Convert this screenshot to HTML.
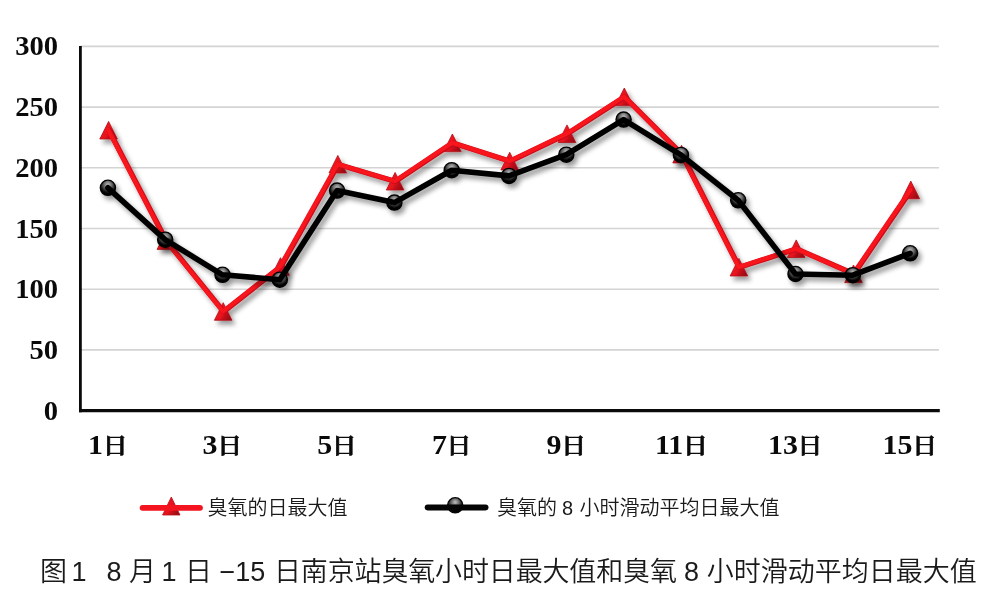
<!DOCTYPE html>
<html lang="zh-CN">
<head>
<meta charset="utf-8">
<title>图1 臭氧日最大值</title>
<style>
html,body{margin:0;padding:0;background:#fff;}
body{width:1000px;height:604px;overflow:hidden;position:relative;}
svg{position:absolute;left:0;top:0;display:block;}
.ax{font-family:"Liberation Serif","Noto Serif CJK SC",serif;font-weight:bold;font-size:28px;fill:#0a0a0a;}
.cj{font-family:"Liberation Serif","Noto Serif CJK SC","Noto Sans CJK SC",serif;font-weight:600;font-size:21.6px;fill:#0a0a0a;stroke:#0a0a0a;stroke-width:0.6px;stroke-linejoin:round;}
.lg{font-family:"Liberation Sans","Noto Sans CJK SC",sans-serif;font-weight:350;font-size:20px;fill:#1a1a1a;}
.cp{font-family:"Liberation Sans","Noto Sans CJK SC",sans-serif;font-weight:350;font-size:27px;fill:#1a1a1a;}
</style>
</head>
<body>
<svg width="1000" height="604" viewBox="0 0 1000 604">
<defs>
<filter id="sh" x="-5%" y="-10%" width="110%" height="125%">
<feGaussianBlur in="SourceAlpha" stdDeviation="2.6"/>
<feOffset dx="2.5" dy="3.5" result="o"/>
<feComponentTransfer><feFuncA type="linear" slope="0.4"/></feComponentTransfer>
<feMerge><feMergeNode/><feMergeNode in="SourceGraphic"/></feMerge>
</filter>
<linearGradient id="tg" x1="0" y1="0.2" x2="1" y2="0.8">
<stop offset="0" stop-color="#f6141f"/><stop offset="0.5" stop-color="#e6131d"/><stop offset="1" stop-color="#8e0c14"/>
</linearGradient>
<radialGradient id="cg" cx="0.5" cy="0.3" r="0.56">
<stop offset="0" stop-color="#c0c0c0"/><stop offset="0.45" stop-color="#6a6a6a"/><stop offset="0.85" stop-color="#161616"/><stop offset="1" stop-color="#000"/>
</radialGradient>
</defs>
<rect width="1000" height="604" fill="#fff"/>
<line x1="80.4" x2="939.0" y1="349.9" y2="349.9" stroke="#d4d4d4" stroke-width="1.6"/>
<line x1="80.4" x2="939.0" y1="289.2" y2="289.2" stroke="#d4d4d4" stroke-width="1.6"/>
<line x1="80.4" x2="939.0" y1="228.5" y2="228.5" stroke="#d4d4d4" stroke-width="1.6"/>
<line x1="80.4" x2="939.0" y1="167.8" y2="167.8" stroke="#d4d4d4" stroke-width="1.6"/>
<line x1="80.4" x2="939.0" y1="107.1" y2="107.1" stroke="#d4d4d4" stroke-width="1.6"/>
<line x1="80.4" x2="939.0" y1="46.4" y2="46.4" stroke="#d4d4d4" stroke-width="1.6"/>
<g filter="url(#sh)">
<polygon points="108.6,121.4 117.4,139.0 99.8,139.0" fill="url(#tg)" stroke="#b5121b" stroke-width="0.8" stroke-linejoin="round"/><polygon points="165.9,231.8 174.7,249.4 157.1,249.4" fill="url(#tg)" stroke="#b5121b" stroke-width="0.8" stroke-linejoin="round"/><polygon points="223.2,302.7 232.0,320.3 214.4,320.3" fill="url(#tg)" stroke="#b5121b" stroke-width="0.8" stroke-linejoin="round"/><polygon points="280.5,257.7 289.3,275.3 271.7,275.3" fill="url(#tg)" stroke="#b5121b" stroke-width="0.8" stroke-linejoin="round"/><polygon points="337.8,155.4 346.6,173.0 329.0,173.0" fill="url(#tg)" stroke="#b5121b" stroke-width="0.8" stroke-linejoin="round"/><polygon points="395.1,172.4 403.9,190.0 386.3,190.0" fill="url(#tg)" stroke="#b5121b" stroke-width="0.8" stroke-linejoin="round"/><polygon points="452.4,134.0 461.2,151.6 443.6,151.6" fill="url(#tg)" stroke="#b5121b" stroke-width="0.8" stroke-linejoin="round"/><polygon points="509.7,152.3 518.5,169.9 500.9,169.9" fill="url(#tg)" stroke="#b5121b" stroke-width="0.8" stroke-linejoin="round"/><polygon points="567.0,124.9 575.8,142.5 558.2,142.5" fill="url(#tg)" stroke="#b5121b" stroke-width="0.8" stroke-linejoin="round"/><polygon points="624.3,88.0 633.1,105.6 615.5,105.6" fill="url(#tg)" stroke="#b5121b" stroke-width="0.8" stroke-linejoin="round"/><polygon points="681.6,145.3 690.4,162.9 672.8,162.9" fill="url(#tg)" stroke="#b5121b" stroke-width="0.8" stroke-linejoin="round"/><polygon points="738.9,258.4 747.7,276.0 730.1,276.0" fill="url(#tg)" stroke="#b5121b" stroke-width="0.8" stroke-linejoin="round"/><polygon points="796.2,239.9 805.0,257.5 787.4,257.5" fill="url(#tg)" stroke="#b5121b" stroke-width="0.8" stroke-linejoin="round"/><polygon points="853.5,265.0 862.3,282.6 844.7,282.6" fill="url(#tg)" stroke="#b5121b" stroke-width="0.8" stroke-linejoin="round"/><polygon points="910.8,181.1 919.6,198.7 902.0,198.7" fill="url(#tg)" stroke="#b5121b" stroke-width="0.8" stroke-linejoin="round"/>
<polyline points="108.6,130.2 165.9,240.6 223.2,311.5 280.5,266.5 337.8,164.2 395.1,181.2 452.4,142.8 509.7,161.1 567.0,133.7 624.3,96.8 681.6,154.1 738.9,267.2 796.2,248.7 853.5,273.8 910.8,189.9" fill="none" stroke="#c20f1a" stroke-width="5.2" stroke-linejoin="round" stroke-linecap="round" transform="translate(0.5,0.2)"/>
<polyline points="108.6,130.2 165.9,240.6 223.2,311.5 280.5,266.5 337.8,164.2 395.1,181.2 452.4,142.8 509.7,161.1 567.0,133.7 624.3,96.8 681.6,154.1 738.9,267.2 796.2,248.7 853.5,273.8 910.8,189.9" fill="none" stroke="#f6121f" stroke-width="4.5" stroke-linejoin="round" stroke-linecap="round" transform="translate(-0.3,-0.1)"/>
</g>
<g filter="url(#sh)">
<circle cx="107.9" cy="187.8" r="7.6" fill="url(#cg)" stroke="#050505" stroke-width="1.3"/><circle cx="165.2" cy="239.7" r="7.6" fill="url(#cg)" stroke="#050505" stroke-width="1.3"/><circle cx="222.5" cy="274.8" r="7.6" fill="url(#cg)" stroke="#050505" stroke-width="1.3"/><circle cx="279.8" cy="279.7" r="7.6" fill="url(#cg)" stroke="#050505" stroke-width="1.3"/><circle cx="337.1" cy="190.6" r="7.6" fill="url(#cg)" stroke="#050505" stroke-width="1.3"/><circle cx="394.4" cy="202.6" r="7.6" fill="url(#cg)" stroke="#050505" stroke-width="1.3"/><circle cx="451.7" cy="170.2" r="7.6" fill="url(#cg)" stroke="#050505" stroke-width="1.3"/><circle cx="509.0" cy="175.9" r="7.6" fill="url(#cg)" stroke="#050505" stroke-width="1.3"/><circle cx="566.3" cy="154.7" r="7.6" fill="url(#cg)" stroke="#050505" stroke-width="1.3"/><circle cx="623.6" cy="119.6" r="7.6" fill="url(#cg)" stroke="#050505" stroke-width="1.3"/><circle cx="680.9" cy="154.9" r="7.6" fill="url(#cg)" stroke="#050505" stroke-width="1.3"/><circle cx="738.2" cy="200.3" r="7.6" fill="url(#cg)" stroke="#050505" stroke-width="1.3"/><circle cx="795.5" cy="274.0" r="7.6" fill="url(#cg)" stroke="#050505" stroke-width="1.3"/><circle cx="852.8" cy="275.2" r="7.6" fill="url(#cg)" stroke="#050505" stroke-width="1.3"/><circle cx="910.1" cy="253.3" r="7.6" fill="url(#cg)" stroke="#050505" stroke-width="1.3"/>
<polyline points="107.9,187.8 165.2,239.7 222.5,274.8 279.8,279.7 337.1,190.6 394.4,202.6 451.7,170.2 509.0,175.9 566.3,154.7 623.6,119.6 680.9,154.9 738.2,200.3 795.5,274.0 852.8,275.2 910.1,253.3" fill="none" stroke="#050505" stroke-width="5.6" stroke-linejoin="round" stroke-linecap="round"/>
</g>
<line x1="80.4" x2="80.4" y1="46.1" y2="412.20000000000005" stroke="#0a0a0a" stroke-width="2.8"/>
<line x1="79" x2="939.8000000000001" y1="410.70000000000005" y2="410.70000000000005" stroke="#0a0a0a" stroke-width="3.2"/>
<text class="ax" transform="translate(58,419.6) scale(1.02,1)" text-anchor="end">0</text>
<text class="ax" transform="translate(58,358.9) scale(1.02,1)" text-anchor="end">50</text>
<text class="ax" transform="translate(58,298.2) scale(1.02,1)" text-anchor="end">100</text>
<text class="ax" transform="translate(58,237.5) scale(1.02,1)" text-anchor="end">150</text>
<text class="ax" transform="translate(58,176.8) scale(1.02,1)" text-anchor="end">200</text>
<text class="ax" transform="translate(58,116.1) scale(1.02,1)" text-anchor="end">250</text>
<text class="ax" transform="translate(58,55.4) scale(1.02,1)" text-anchor="end">300</text>
<text class="ax" transform="translate(103.0,454) scale(1.07,1)" text-anchor="end">1</text><text class="cj" transform="translate(102.4,453.3) scale(1.17,1)">日</text>
<text class="ax" transform="translate(217.6,454) scale(1.07,1)" text-anchor="end">3</text><text class="cj" transform="translate(217.0,453.3) scale(1.17,1)">日</text>
<text class="ax" transform="translate(332.2,454) scale(1.07,1)" text-anchor="end">5</text><text class="cj" transform="translate(331.6,453.3) scale(1.17,1)">日</text>
<text class="ax" transform="translate(446.9,454) scale(1.07,1)" text-anchor="end">7</text><text class="cj" transform="translate(446.3,453.3) scale(1.17,1)">日</text>
<text class="ax" transform="translate(561.5,454) scale(1.07,1)" text-anchor="end">9</text><text class="cj" transform="translate(560.9,453.3) scale(1.17,1)">日</text>
<text class="ax" transform="translate(683.3,454) scale(1.07,1)" text-anchor="end">11</text><text class="cj" transform="translate(682.7,453.3) scale(1.17,1)">日</text>
<text class="ax" transform="translate(797.9,454) scale(1.07,1)" text-anchor="end">13</text><text class="cj" transform="translate(797.3,453.3) scale(1.17,1)">日</text>
<text class="ax" transform="translate(912.5,454) scale(1.07,1)" text-anchor="end">15</text><text class="cj" transform="translate(911.9,453.3) scale(1.17,1)">日</text>
<!-- legend -->
<polygon points="171.3,497.0 180.0,515.0 162.6,515.0" fill="url(#tg)" stroke="#b5121b" stroke-width="0.8" stroke-linejoin="round"/>
<line x1="142.6" x2="200" y1="507.8" y2="507.8" stroke="#f3141f" stroke-width="5.8" stroke-linecap="round"/>
<text class="lg" x="207.5" y="514.6">臭氧的日最大值</text>
<circle cx="455.2" cy="505.3" r="7.6" fill="url(#cg)" stroke="#050505" stroke-width="1.3"/>
<line x1="427.6" x2="485.6" y1="507.5" y2="507.5" stroke="#050505" stroke-width="5.8" stroke-linecap="round"/>
<text class="lg" x="497" y="514.6">臭氧的</text>
<text class="lg" x="562" y="514.6">8</text>
<text class="lg" x="579.5" y="514.6">小时滑动平均日最大值</text>
<!-- caption -->
<text class="cp" x="40" y="580.5">图</text>
<text class="cp" x="71.5" y="580.5">1</text>
<text class="cp" x="106.5" y="580.5">8</text>
<text class="cp" x="129" y="580.5">月</text>
<text class="cp" x="161.4" y="580.5">1</text>
<text class="cp" x="185" y="580.5">日</text>
<text class="cp" x="219.5" y="580.5">−15</text>
<text class="cp" x="274" y="580.5" letter-spacing="-0.15">日南京站臭氧小时日最大值和臭氧</text>
<text class="cp" x="684" y="580.5">8</text>
<text class="cp" x="706.8" y="580.5">小时滑动平均日最大值</text>
</svg>
</body>
</html>
